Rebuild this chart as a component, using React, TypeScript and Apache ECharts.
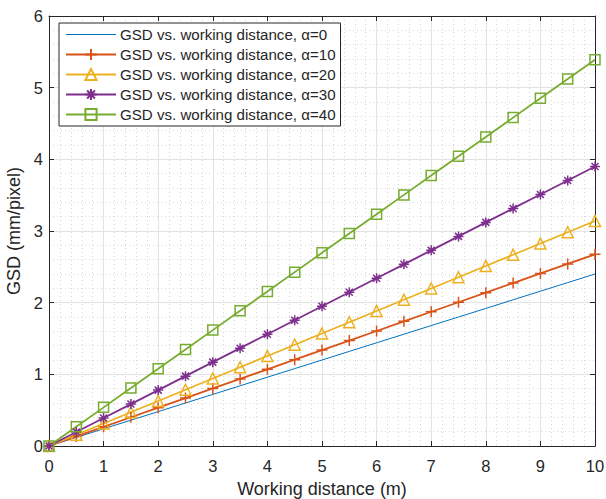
import React, { useEffect, useRef } from "react";
import * as echarts from "echarts";

const xValues = [0, 0.5, 1, 1.5, 2, 2.5, 3, 3.5, 4, 4.5, 5, 5.5, 6, 6.5, 7, 7.5, 8, 8.5, 9, 9.5, 10];
const gsdA0 = [0, 0.12, 0.24, 0.36, 0.48, 0.6, 0.72, 0.84, 0.96, 1.08, 1.2, 1.32, 1.44, 1.56, 1.68, 1.8, 1.92, 2.04, 2.16, 2.28, 2.4];
const gsdA10 = [0, 0.134, 0.268, 0.401, 0.535, 0.669, 0.803, 0.936, 1.07, 1.204, 1.338, 1.471, 1.605, 1.739, 1.873, 2.006, 2.14, 2.274, 2.408, 2.541, 2.675];
const gsdA20 = [0, 0.157, 0.314, 0.471, 0.628, 0.785, 0.942, 1.099, 1.256, 1.413, 1.57, 1.727, 1.884, 2.041, 2.198, 2.355, 2.512, 2.669, 2.826, 2.983, 3.14];
const gsdA30 = [0, 0.195, 0.39, 0.585, 0.78, 0.975, 1.17, 1.365, 1.56, 1.755, 1.95, 2.145, 2.34, 2.535, 2.73, 2.925, 3.12, 3.315, 3.51, 3.705, 3.9];
const gsdA40 = [0, 0.27, 0.539, 0.809, 1.078, 1.348, 1.617, 1.887, 2.156, 2.426, 2.695, 2.965, 3.234, 3.504, 3.773, 4.043, 4.312, 4.582, 4.851, 5.121, 5.39];
const seriesNames = [
  "GSD vs. working distance, α=0",
  "GSD vs. working distance, α=10",
  "GSD vs. working distance, α=20",
  "GSD vs. working distance, α=30",
  "GSD vs. working distance, α=40",
];

const FONT = "'Liberation Sans', Arial, Helvetica, sans-serif";
const PLUS = "path://M5,0L5,10M0,5L10,5";
const STAR = "path://M5,0L5,10M0,5L10,5M1.5,1.5L8.5,8.5M8.5,1.5L1.5,8.5";

export default function App() {
  const ref = useRef<HTMLDivElement>(null);
  useEffect(() => {
    if (!ref.current) return;
    const chart = echarts.init(ref.current, null, { renderer: "svg" });
    const pair = (arr: number[]) => xValues.map((x, i) => [x, arr[i]]);
    const mk = (name: string, data: number[], color: string, symbol: string, size: number, width: number, show: boolean) => ({
      name,
      type: "line",
      data: pair(data),
      showSymbol: show,
      symbol,
      symbolSize: size,
      lineStyle: { color, width },
      itemStyle: { color: show && (symbol === "triangle" || symbol === "rect") ? "transparent" : color, borderColor: color, borderWidth: 1.5 },
      emphasis: { disabled: true },
      z: 3,
    });
    const gridLine = { show: true, lineStyle: { color: "#e3e3e3", width: 1 } };
    const minorLine = { show: true, lineStyle: { color: "#d6d6d6", width: 1, type: [1, 3] } };
    chart.setOption({
      animation: false,
      grid: { left: 49, right: 11, top: 16, bottom: 53, containLabel: false, outerBoundsMode: "none" },
      legend: {
        left: 59,
        top: 23,
        orient: "vertical",
        backgroundColor: "#fff",
        borderColor: "#262626",
        borderWidth: 1,
        padding: [4, 5, 4, 6],
        itemWidth: 50,
        itemHeight: 14,
        itemGap: 5,
        textStyle: { fontFamily: FONT, fontSize: 15.1, color: "#262626", padding: [0, 0, 0, -1] },
        data: [
          { name: seriesNames[0], itemStyle: { color: "transparent", borderWidth: 0, opacity: 0 }, lineStyle: { width: 1 } },
          seriesNames[1],
          seriesNames[2],
          seriesNames[3],
          seriesNames[4],
        ],
      },
      xAxis: [
        {
          type: "value", min: 0, max: 10, interval: 1,
          name: "Working distance (m)", nameLocation: "middle", nameGap: 34,
          nameTextStyle: { fontFamily: FONT, fontSize: 18, color: "#262626" },
          axisLine: { show: true, onZero: false, lineStyle: { color: "#262626", width: 1 } },
          axisTick: { show: true, inside: true, length: 5, lineStyle: { color: "#262626" } },
          axisLabel: { fontFamily: FONT, fontSize: 16.5, color: "#262626", margin: 11 },
          splitLine: gridLine,
          minorTick: { show: false, splitNumber: 5 },
          minorSplitLine: minorLine,
        },
        {
          type: "value", min: 0, max: 10, interval: 1, position: "top",
          axisLine: { show: true, onZero: false, lineStyle: { color: "#262626", width: 1 } },
          axisTick: { show: true, inside: true, length: 5, lineStyle: { color: "#262626" } },
          axisLabel: { show: false },
          splitLine: { show: false },
        },
      ],
      yAxis: [
        {
          type: "value", min: 0, max: 6, interval: 1,
          name: "GSD (mm/pixel)", nameLocation: "middle", nameGap: 22,
          nameTextStyle: { fontFamily: FONT, fontSize: 18, color: "#262626" },
          axisLine: { show: true, onZero: false, lineStyle: { color: "#262626", width: 1 } },
          axisTick: { show: true, inside: true, length: 5, lineStyle: { color: "#262626" } },
          axisLabel: { fontFamily: FONT, fontSize: 16.5, color: "#262626", margin: 6 },
          splitLine: gridLine,
          minorTick: { show: false, splitNumber: 5 },
          minorSplitLine: minorLine,
        },
        {
          type: "value", min: 0, max: 6, interval: 1, position: "right",
          axisLine: { show: true, onZero: false, lineStyle: { color: "#262626", width: 1 } },
          axisTick: { show: true, inside: true, length: 5, lineStyle: { color: "#262626" } },
          axisLabel: { show: false },
          splitLine: { show: false },
        },
      ],
      series: [
        mk(seriesNames[0], gsdA0, "#0072BD", "circle", 1, 1, false),
        mk(seriesNames[1], gsdA10, "#D95319", PLUS, 11, 1.8, true),
        mk(seriesNames[2], gsdA20, "#EDB120", "triangle", 11, 1.8, true),
        mk(seriesNames[3], gsdA30, "#7E2F8E", STAR, 10, 1.8, true),
        mk(seriesNames[4], gsdA40, "#77AC30", "rect", 10, 1.8, true),
      ],
    });
    return () => chart.dispose();
  }, []);
  return <div ref={ref} style={{ width: 606, height: 499, position: "absolute", left: 0, top: 0, background: "#fff" }} />;
}
